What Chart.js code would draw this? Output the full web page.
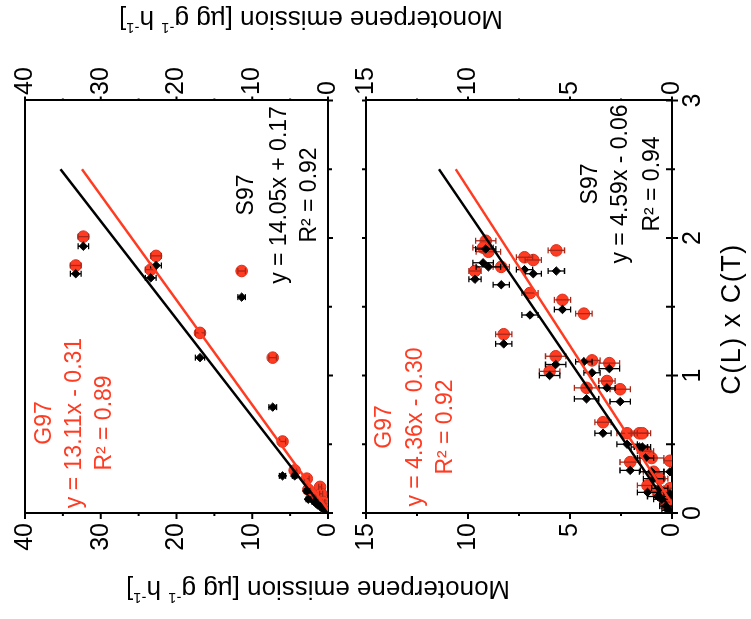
<!DOCTYPE html>
<html lang="en">
<head>
<meta charset="UTF-8">
<title>Monoterpene emission vs C(L) x C(T)</title>
<script src="https://cdn.jsdelivr.net/npm/chart.js"></script>
<style>
  html, body { margin: 0; padding: 0; background: #fff; overflow: hidden; }
  /* figure is drawn upright (portrait) and then turned a quarter left */
  #fig { position: absolute; left: 0; top: 0; width: 619px; height: 751px;
         transform-origin: 0 0; transform: translateY(619px) rotate(-90deg); }
  #fig canvas { position: absolute; left: 0; top: 0; }
</style>
</head>
<body>
<div id="fig">
  <canvas id="upperChart" width="619" height="751"></canvas>
  <canvas id="lowerChart" width="619" height="751"></canvas>
</div>
<script>
// ---- axis ticks ----
const cTicks = [0, 1, 2, 3];
const cMinor = [0.5, 1.5, 2.5];
const upTicks = [0, 10, 20, 30, 40];
const upMinor = [5, 15, 25, 35];
const lowTicks = [0, 5, 10, 15];
const lowMinor = [2.5, 7.5, 12.5];

// ---- upper panel: emission with C(L)xC(T) from G97 and S97 ----
const upEmission = [33.3, 32.3, 23.4, 22.7, 16.9, 11.4, 7.3, 6.0, 4.4, 2.8, 2.6, 1.8, 1.05, 1.4, 0.9, 0.6, 0.4, 0.2];
const upErr      = [0.7, 0.7, 0.7, 0.7, 0.6, 0.5, 0.5, 0.4, 0.3, 0.3, 0.3, 0.3, 0.2, 0.2, 0.2, 0.2, 0.1, 0.1];
const upG97      = [1.80, 2.01, 1.77, 1.87, 1.31, 1.76, 1.13, 0.52, 0.31, 0.25, 0.17, 0.13, 0.19, 0.10, 0.14, 0.08, 0.05, 0.03];
const upS97      = [1.74, 1.94, 1.71, 1.80, 1.13, 1.57, 0.77, 0.27, 0.27, 0.16, 0.10, 0.08, 0.05, 0.06, 0.04, 0.03, 0.02, 0.01];
const upFitG97   = [[0, -0.31], [2.5, 32.47]];
const upFitS97   = [[0, 0.17], [2.5, 35.3]];

// ---- lower panel ----
const lowEmission = [9.13, 9.0, 9.26, 9.66, 8.37, 7.23, 6.8, 5.67, 6.96, 5.37, 4.32, 8.25, 5.7, 6.0, 3.92, 3.07, 3.19, 4.19, 2.54, 3.38, 2.2, 1.6, 1.45, 2.05, 1.3, 1.0, 0.9, 1.2, 0.6, 0.5, 0.3, 0.2, 0.7, 0.1, 0.1];
const lowErr      = [0.5, 0.6, 0.5, 0.3, 0.4, 0.4, 0.4, 0.4, 0.4, 0.4, 0.4, 0.4, 0.5, 0.5, 0.4, 0.5, 0.4, 0.6, 0.5, 0.4, 0.5, 0.4, 0.4, 0.5, 0.4, 0.6, 0.5, 0.5, 0.4, 0.4, 0.3, 0.3, 0.5, 0.3, 0.3];
const lowG97      = [1.98, 1.90, 1.93, 1.76, 1.79, 1.86, 1.84, 1.91, 1.60, 1.55, 1.45, 1.30, 1.14, 1.03, 1.11, 1.09, 0.96, 0.91, 0.90, 0.66, 0.58, 0.58, 0.58, 0.37, 0.45, 0.40, 0.30, 0.20, 0.25, 0.12, 0.08, 0.05, 0.15, 0.38, 0.18];
const lowS97      = [1.92, 1.79, 1.82, 1.70, 1.66, 1.77, 1.74, 1.76, 1.44, 1.48, 1.10, 1.23, 1.08, 1.00, 1.02, 1.05, 0.91, 0.83, 0.81, 0.58, 0.50, 0.48, 0.48, 0.31, 0.40, 0.30, 0.25, 0.15, 0.18, 0.10, 0.05, 0.02, 0.12, 0.30, 0.14];
const lowFitG97   = [[0, -0.30], [2.5, 10.6]];
const lowFitS97   = [[0, -0.06], [2.5, 11.42]];

const FONT = "'Liberation Sans', Arial, Helvetica, sans-serif";
const RED = '#ff3b22';
const RED_DARK = '#a8281a';

Chart.defaults.font.family = FONT;
Chart.defaults.color = '#000';

// vertical error bars on the emission value
const errorBars = {
  id: 'errorBars',
  afterDatasetDraw(chart, args) {
    const ds = chart.data.datasets[args.index];
    if (!ds.errY) return;
    const xs = chart.scales.x, ys = chart.scales.y, ctx = chart.ctx, a = chart.chartArea;
    ctx.save();
    ctx.beginPath();
    ctx.rect(a.left, a.top, a.right - a.left, a.bottom - a.top);
    ctx.clip();
    ctx.strokeStyle = ds.errColor;
    ctx.lineWidth = 1.3;
    ds.data.forEach((p, i) => {
      const px = xs.getPixelForValue(p.x);
      const y1 = ys.getPixelForValue(p.y - ds.errY[i]);
      const y2 = ys.getPixelForValue(p.y + ds.errY[i]);
      ctx.beginPath();
      ctx.moveTo(px, y1); ctx.lineTo(px, y2);
      ctx.moveTo(px - 3, y1); ctx.lineTo(px + 3, y1);
      ctx.moveTo(px - 3, y2); ctx.lineTo(px + 3, y2);
      ctx.stroke();
    });
    ctx.restore();
  }
};

// major and minor tick marks (chart.js has no minor ticks)
const tickMarks = {
  id: 'tickMarks',
  afterDraw(chart, args, opts) {
    const ctx = chart.ctx;
    ctx.save();
    ctx.strokeStyle = '#000';
    ctx.lineWidth = 2;
    opts.specs.forEach(s => {
      const sc = chart.scales[s.id], pos = sc.options.position;
      const sign = (pos === 'bottom' || pos === 'right') ? 1 : -1;
      const edge = pos === 'bottom' ? sc.top : pos === 'top' ? sc.bottom : pos === 'left' ? sc.right : sc.left;
      const mark = (v, out, inn) => {
        const p = sc.getPixelForValue(v);
        const a = edge - sign * inn, b = edge + sign * out;
        ctx.beginPath();
        if (sc.isHorizontal()) { ctx.moveTo(p, a); ctx.lineTo(p, b); }
        else { ctx.moveTo(a, p); ctx.lineTo(b, p); }
        ctx.stroke();
      };
      s.major.forEach(v => mark(v, s.out, s.inn || 0));
      s.minor.forEach(v => mark(v, s.minOut, s.minIn || 0));
    });
    ctx.restore();
  }
};

const panelText = {
  id: 'panelText',
  afterDraw(chart, args, opts) {
    const ctx = chart.ctx, a = chart.chartArea;
    ctx.save();
    ctx.textAlign = 'center';
    ctx.textBaseline = 'alphabetic';
    opts.items.forEach(it => {
      ctx.font = (it.size || 23) + 'px ' + FONT;
      ctx.fillStyle = it.color || '#000';
      if ('letterSpacing' in ctx) ctx.letterSpacing = (it.spacing || 0) + 'px';
      ctx.fillText(it.text, a.left + it.dx, a.top + it.dy);
    });
    ctx.restore();
  }
};

// shared emission titles on both sides, with superscripts
const sideTitles = {
  id: 'sideTitles',
  afterDraw(chart, args, opts) {
    const ctx = chart.ctx;
    const parts = [['Monoterpene emission [µg g', 0], ['-1', 1], [' h', 0], ['-1', 1], [']', 0]];
    const fontFor = s => (s ? 15 : 26) + 'px ' + FONT;
    opts.at.forEach(([cx, cy]) => {
      ctx.save();
      ctx.translate(cx, cy);
      ctx.rotate(-Math.PI / 2);
      ctx.fillStyle = '#000';
      ctx.textBaseline = 'middle';
      ctx.textAlign = 'left';
      let total = 0;
      parts.forEach(([t, s]) => { ctx.font = fontFor(s); total += ctx.measureText(t).width; });
      let x = -total / 2;
      parts.forEach(([t, s]) => {
        ctx.font = fontFor(s);
        ctx.fillText(t, x, s ? -9 : 0);
        x += ctx.measureText(t).width;
      });
      ctx.restore();
    });
  }
};

function axis(position, min, max, step, o) {
  return {
    type: 'linear', position, min, max,
    afterFit: s => {
      if (o.w != null) s.width = o.w;
      if (o.h != null) s.height = o.h;
    },
    grid: { display: false, drawTicks: false, drawOnChartArea: false, lineWidth: 2 },
    border: { display: true, color: '#000', width: 2 },
    ticks: { display: !!o.labels, stepSize: step, padding: o.pad || 0, color: '#000',
             font: { family: FONT, size: 25 } }
  };
}

function buildChart(id, o) {
  const pts = cs => cs.map((c, i) => ({ x: c, y: o.emission[i] }));
  const line = f => f.map(p => ({ x: p[0], y: p[1] }));
  return new Chart(document.getElementById(id), {
    type: 'scatter',
    data: {
      datasets: [
        { data: line(o.fitS97), showLine: true, borderColor: '#000', borderWidth: 2.5, pointRadius: 0, order: 0 },
        { data: line(o.fitG97), showLine: true, borderColor: RED, borderWidth: 2.5, pointRadius: 0, order: 0 },
        { data: pts(o.s97), pointStyle: 'rectRot', pointRadius: 4.2, backgroundColor: '#000', borderColor: '#000',
          borderWidth: 1, errY: o.err, errColor: '#000', order: 1 },
        { data: pts(o.g97), pointStyle: 'circle', pointRadius: 5.8, backgroundColor: RED, borderColor: '#d8301c',
          borderWidth: 1, errY: o.err, errColor: RED_DARK, order: 2 }
      ]
    },
    options: {
      responsive: false,
      animation: false,
      devicePixelRatio: 1,
      layout: { padding: 0 },
      scales: {
        x: axis('bottom', 0, 3, 1, o.xBottom),
        xTop: axis('top', 0, 3, 1, o.xTop),
        y: axis('left', 0, o.max, o.step, { w: 106, labels: true, pad: 10 }),
        yR: axis('right', 0, o.max, o.step, { w: 100.5, labels: true, pad: 5.5 })
      },
      plugins: {
        legend: { display: false },
        tooltip: { enabled: false },
        tickMarks: { specs: o.ticks },
        panelText: { items: o.texts },
        sideTitles: { at: o.titles }
      }
    },
    plugins: [errorBars, tickMarks, panelText, sideTitles]
  });
}

buildChart('upperChart', {
  emission: upEmission, err: upErr, g97: upG97, s97: upS97, fitG97: upFitG97, fitS97: upFitS97,
  max: 40, step: 10,
  xBottom: { h: 751 - 328 }, xTop: { h: 22 },
  ticks: [
    { id: 'y', major: upTicks, minor: upMinor, out: 6, minOut: 3 },
    { id: 'yR', major: upTicks, minor: upMinor, out: 4, minOut: 2 },
    { id: 'x', major: cTicks, minor: cMinor, out: 5, minOut: 4 }
  ],
  texts: [
    { text: 'G97', dx: 90, dy: 26, color: RED },
    { text: 'y = 13.11x - 0.31', dx: 90, dy: 56, color: RED },
    { text: 'R² = 0.89', dx: 90, dy: 86, color: RED },
    { text: 'S97', dx: 318, dy: 228 },
    { text: 'y = 14.05x + 0.17', dx: 318, dy: 261 },
    { text: 'R² = 0.92', dx: 318, dy: 291 }
  ],
  titles: [[31, 318], [601, 311]]
});

buildChart('lowerChart', {
  emission: lowEmission, err: lowErr, g97: lowG97, s97: lowS97, fitG97: lowFitG97, fitS97: lowFitS97,
  max: 15, step: 5,
  xBottom: { h: 751 - 672, labels: true, pad: 6 }, xTop: { h: 366 },
  ticks: [
    { id: 'y', major: lowTicks, minor: lowMinor, out: 6, minOut: 3 },
    { id: 'yR', major: lowTicks, minor: lowMinor, out: 4, minOut: 2 },
    { id: 'x', major: cTicks, minor: cMinor, out: 6, inn: 6, minOut: 3, minIn: 6 },
    { id: 'xTop', major: cTicks, minor: cMinor, out: 4, minOut: 4 }
  ],
  texts: [
    { text: 'G97', dx: 86, dy: 25, color: RED },
    { text: 'y = 4.36x - 0.30', dx: 86, dy: 56, color: RED },
    { text: 'R² = 0.92', dx: 86, dy: 86, color: RED },
    { text: 'S97', dx: 329, dy: 231 },
    { text: 'y = 4.59x - 0.06', dx: 329, dy: 261 },
    { text: 'R² = 0.94', dx: 329, dy: 293 },
    { text: 'C(L) x C(T)', dx: 300 - 106, dy: 740 - 366, size: 27, spacing: 1.5 }
  ],
  titles: []
});
</script>
</body>
</html>
